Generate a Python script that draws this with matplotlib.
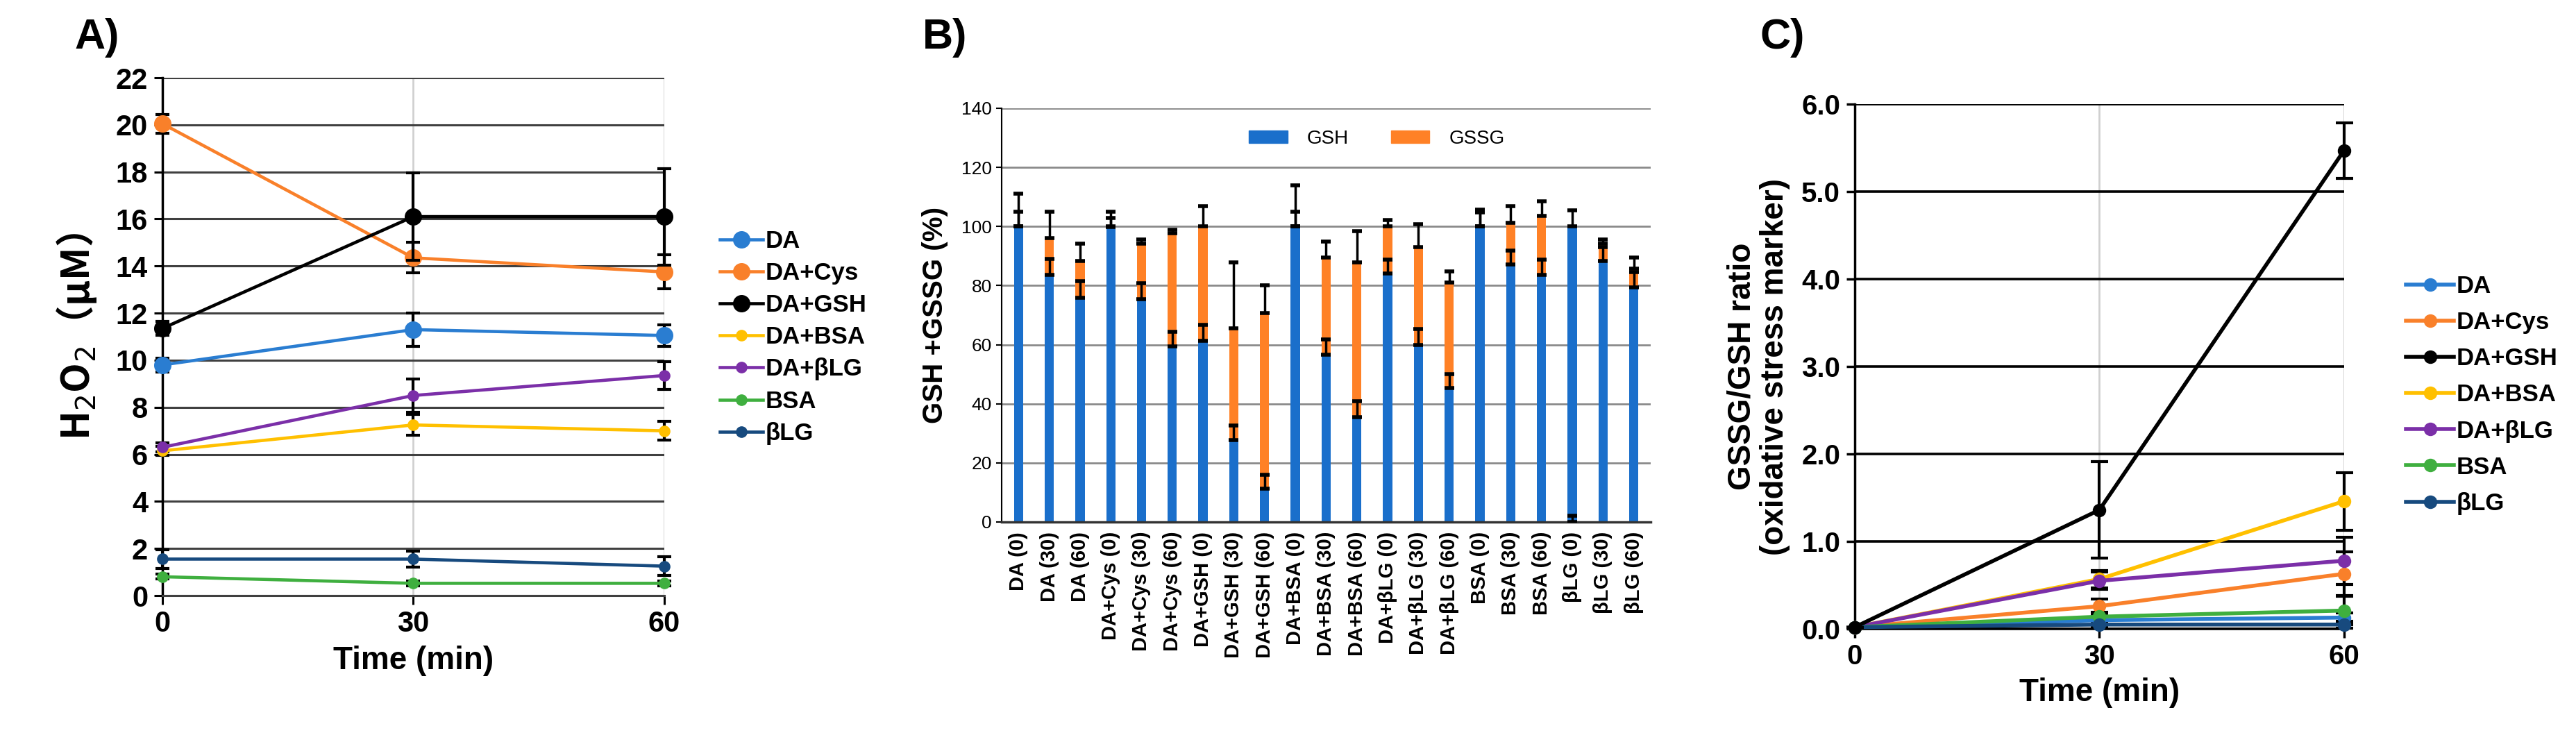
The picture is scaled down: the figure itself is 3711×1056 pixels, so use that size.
import numpy as np
import matplotlib
matplotlib.use('Agg')
import matplotlib.pyplot as plt
from matplotlib.patches import Patch
from matplotlib.lines import Line2D

plt.rcParams['font.family'] = ['Liberation Sans', 'DejaVu Sans']

# ---------- data ----------
time = [0, 30, 60]
series = ['DA', 'DA+Cys', 'DA+GSH', 'DA+BSA', 'DA+βLG', 'BSA', 'βLG']
colors = ['#2A7DD1', '#F9802A', '#000000', '#FFC000', '#7B2FA8', '#3FAF3F', '#174A7E']

# panel A: H2O2 (uM)
h2o2 = [
    [9.8, 11.3, 11.05],
    [20.05, 14.35, 13.75],
    [11.35, 16.1, 16.1],
    [6.15, 7.25, 7.0],
    [6.3, 8.5, 9.35],
    [0.8, 0.52, 0.52],
    [1.55, 1.55, 1.25],
]
h2o2_err = [
    [0.3, 0.7, 0.45],
    [0.4, 0.65, 0.72],
    [0.3, 1.85, 2.05],
    [0.2, 0.45, 0.4],
    [0.2, 0.7, 0.6],
    [0.1, 0.1, 0.1],
    [0.4, 0.35, 0.4],
]

# panel B: GSH + GSSG (%)
samples = ['DA (0)', 'DA (30)', 'DA (60)', 'DA+Cys (0)', 'DA+Cys (30)', 'DA+Cys (60)',
           'DA+GSH (0)', 'DA+GSH (30)', 'DA+GSH (60)', 'DA+BSA (0)', 'DA+BSA (30)',
           'DA+BSA (60)', 'DA+βLG (0)', 'DA+βLG (30)', 'DA+βLG (60)', 'BSA (0)',
           'BSA (30)', 'BSA (60)', 'βLG (0)', 'βLG (30)', 'βLG (60)']
gsh = [100, 83.6, 75.9, 99.8, 75.3, 59.5, 61.3, 27.8, 11.3, 100, 56.7,
       35.4, 84.1, 60.0, 45.4, 100, 87.2, 83.6, 100, 88.2, 79.4]
gssg = [0, 12.4, 12.4, 0.2, 18.8, 38.3, 38.7, 37.7, 59.4, 0, 32.7,
        52.4, 15.9, 33.0, 35.7, 0, 14.0, 20.1, 0, 5.9, 6.4]
gsh_err = [5, 5.4, 5.5, 3, 5.5, 4.9, 5.4, 4.8, 4.7, 5, 5.1,
           5.4, 4.7, 5.3, 4.7, 4.8, 4.7, 5.2, 2.0, 4.9, 5.1]
# where the GSH error bar starts (βLG (0) bar sits at the base)
gsh_err_at = list(gsh)
gsh_err_at[18] = 0
total_err = [11, 8.9, 6.0, 5, 1.6, 1.2, 6.8, 22.3, 9.5, 13.9, 5.4,
             10.6, 2.1, 7.7, 3.8, 5.6, 5.6, 4.7, 5.4, 1.4, 3.8]

# panel C: GSSG/GSH ratio
ratio = [
    [0.02, 0.10, 0.13],
    [0.02, 0.26, 0.63],
    [0.02, 1.36, 5.47],
    [0.02, 0.57, 1.46],
    [0.02, 0.55, 0.78],
    [0.02, 0.14, 0.21],
    [0.02, 0.05, 0.05],
]
ratio_err = [
    [0.0, 0.05, 0.05],
    [0.0, 0.08, 0.25],
    [0.0, 0.55, 0.32],
    [0.0, 0.1, 0.33],
    [0.0, 0.1, 0.27],
    [0.0, 0.05, 0.16],
    [0.0, 0.03, 0.04],
]
big = ['DA', 'DA+Cys', 'DA+GSH']

fig = plt.figure(figsize=(37.12, 10.56), dpi=100)

# ---------- A ----------
axA = fig.add_axes([0.0630, 0.1875, 0.1948, 0.7064])
handlesA = []
for i, name in enumerate(series):
    ms = 17 if name in big else 11
    axA.errorbar(time, h2o2[i], yerr=h2o2_err[i], color=colors[i], lw=3.3, marker='o',
                 ms=ms, ecolor='black', elinewidth=3, capsize=7, capthick=3,
                 clip_on=False, zorder=3 + (i == 2))
    handlesA.append(Line2D([], [], color=colors[i], lw=3.3, marker='o', ms=ms, label=name))
axA.set_xlim(0, 60)
axA.set_ylim(0, 22)
axA.set_yticks(range(0, 23, 2))
axA.set_xticks(time)
axA.grid(axis='y', color='#404040', lw=2.2)
for x in (30, 60):
    axA.axvline(x, color='#d0d0d0', lw=2, zorder=0)
for s in ['top', 'right']:
    axA.spines[s].set_visible(False)
axA.spines['left'].set_linewidth(2.5)
axA.spines['bottom'].set_color('#404040')
axA.spines['bottom'].set_linewidth(2.2)
axA.tick_params(axis='both', labelsize=30, width=2.2, length=9, pad=6)
for t in axA.get_xticklabels() + axA.get_yticklabels():
    t.set_fontweight('bold')
axA.set_xlabel('Time (min)', fontsize=33, fontweight='bold', labelpad=8)
axA.set_ylabel('H$_2$O$_2$（μM）', fontsize=40, labelpad=18, fontweight='bold',
               family=['Noto Sans CJK JP', 'DejaVu Sans'])
fig.text(0.029, 0.948, 'A)', fontsize=44, fontweight='bold', va='center')
fig.legend(handles=handlesA, loc='upper left',
           bbox_to_anchor=(0.2755, 0.70), frameon=False,
           prop={'weight': 'bold', 'size': 25}, handlelength=1.8,
           handletextpad=0.1, labelspacing=0.38, borderaxespad=0)

# ---------- B ----------
axB = fig.add_axes([0.3887, 0.2879, 0.2519, 0.5644])
xb = np.arange(len(samples))
w = 0.3
totals = [g + s for g, s in zip(gsh, gssg)]
axB.bar(xb, gsh, w, color='#1A6FCB', zorder=2)
axB.bar(xb, gssg, w, bottom=gsh, color='#FF8126', zorder=2)
ekw = dict(fmt='none', ecolor='black', elinewidth=2.5, capsize=5, capthick=4, zorder=4)
axB.errorbar(xb, gsh_err_at, yerr=[np.zeros(len(xb)), gsh_err], **ekw)
axB.errorbar(xb, totals, yerr=[np.zeros(len(xb)), total_err], **ekw)
axB.set_xlim(-0.55, len(samples) - 0.45)
axB.set_ylim(0, 140)
axB.set_yticks(range(0, 141, 20))
axB.grid(axis='y', color='#8a8a8a', lw=2, zorder=0)
for s in ['top', 'right']:
    axB.spines[s].set_visible(False)
axB.spines['left'].set_linewidth(1.5)
axB.spines['bottom'].set_linewidth(2.5)
axB.spines['bottom'].set_color('#333333')
axB.set_xticks(xb)
axB.set_xticklabels(samples, rotation=90, fontsize=21, fontweight='bold')
axB.tick_params(axis='x', length=0, pad=10)
axB.tick_params(axis='y', labelsize=19, width=1.5, length=6, pad=4)
axB.set_ylabel('GSH +GSSG (%)', fontsize=29, fontweight='bold', labelpad=14)
axB.legend(handles=[Patch(color='#1A6FCB', label='GSH'), Patch(color='#FF8126', label='GSSG')],
           loc='center', bbox_to_anchor=(0.578, 0.926), ncol=2, frameon=False,
           fontsize=20, handlelength=2.0, handleheight=0.6, columnspacing=2.2,
           handletextpad=1.0)
fig.text(0.358, 0.948, 'B)', fontsize=44, fontweight='bold', va='center')

# ---------- C ----------
axC = fig.add_axes([0.7198, 0.1420, 0.1899, 0.7159])
handlesC = []
for i, name in enumerate(series):
    axC.errorbar(time, ratio[i], yerr=ratio_err[i], color=colors[i], lw=4, marker='o',
                 ms=13, ecolor='black', elinewidth=3, capsize=9, capthick=3,
                 clip_on=False, zorder=3 + (i == 2))
    handlesC.append(Line2D([], [], color=colors[i], lw=4, marker='o', ms=13, label=name))
axC.set_xlim(0, 60)
axC.set_ylim(0, 6)
axC.set_yticks(np.arange(0, 6.1, 1))
axC.set_yticklabels(['%.1f' % v for v in np.arange(0, 6.1, 1)])
axC.set_xticks(time)
axC.grid(axis='y', color='black', lw=2.6)
for x in (30, 60):
    axC.axvline(x, color='#d0d0d0', lw=2, zorder=0)
for s in ['top', 'right']:
    axC.spines[s].set_visible(False)
axC.spines['left'].set_linewidth(2.5)
axC.spines['bottom'].set_linewidth(2.6)
axC.tick_params(axis='both', labelsize=29, width=2.5, length=9, pad=6)
for t in axC.get_xticklabels() + axC.get_yticklabels():
    t.set_fontweight('bold')
axC.set_xlabel('Time (min)', fontsize=33, fontweight='bold', labelpad=8)
axC.set_ylabel('GSSG/GSH ratio\n(oxidative stress marker)', fontsize=33,
               fontweight='bold', labelpad=12, linespacing=1.1)
fig.text(0.683, 0.948, 'C)', fontsize=44, fontweight='bold', va='center')
fig.legend(handles=handlesC, loc='upper left',
           bbox_to_anchor=(0.930, 0.638), frameon=False,
           prop={'weight': 'bold', 'size': 25}, handlelength=2.0,
           handletextpad=0.1, labelspacing=0.55, borderaxespad=0)

fig.savefig('out.png', dpi=100)
